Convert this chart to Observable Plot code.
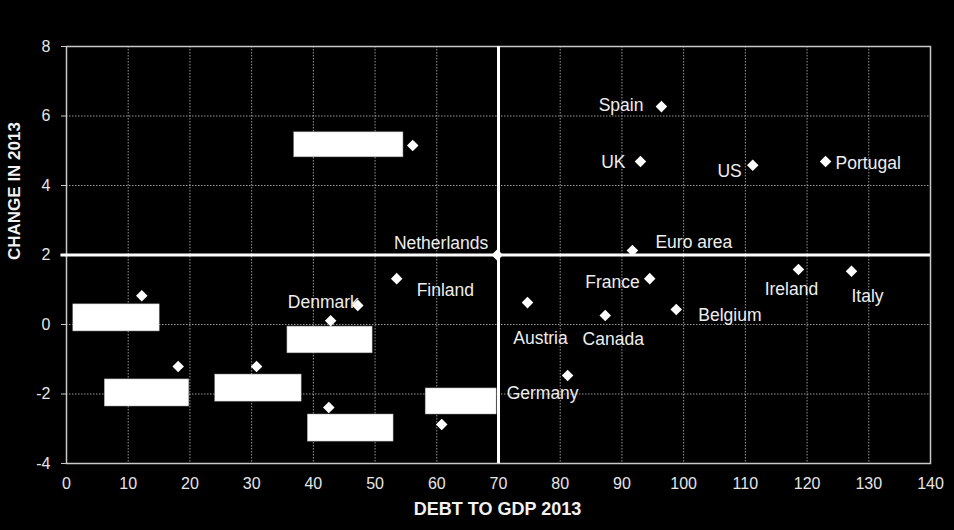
<!DOCTYPE html>
<html>
<head>
<meta charset="utf-8">
<script src="https://cdn.jsdelivr.net/npm/d3@7"></script>
<script src="https://cdn.jsdelivr.net/npm/@observablehq/plot@0.6"></script>
<style>
  html, body { margin: 0; padding: 0; background: #000; }
  #chart svg { display: block; }
</style>
</head>
<body>
<div id="chart"></div>
<script>
// ---- Data ----
const countries = ["Spain", "UK", "US", "Portugal", "Euro area", "Netherlands", "France", "Ireland", "Italy",
  "Belgium", "Canada", "Austria", "Germany", "Finland", "Denmark",
  "", "", "", "", "", "", ""];
const debtToGdp = [96.4, 93.0, 111.2, 123.0, 91.7, 69.8, 94.5, 118.6, 127.2,
  98.8, 87.3, 74.7, 81.2, 53.5, 47.2,
  42.8, 56.1, 12.2, 18.1, 30.8, 42.5, 60.8];
const change2013 = [6.27, 4.69, 4.58, 4.69, 2.13, 2.0, 1.32, 1.58, 1.53,
  0.43, 0.26, 0.63, -1.47, 1.32, 0.55,
  0.11, 5.15, 0.83, -1.21, -1.21, -2.39, -2.88];

// hidden (blanked-out) label boxes, in data units
const boxX1 = [36.9, 1.1, 6.2, 24.1, 35.8, 39.1, 58.2];
const boxX2 = [54.6, 15.1, 19.9, 38.1, 49.6, 53.0, 69.7];
const boxY1 = [4.81, -0.20, -2.36, -2.22, -0.83, -3.37, -2.59];
const boxY2 = [5.53, 0.58, -1.58, -1.44, -0.06, -2.59, -1.84];

const xTicks = [0, 10, 20, 30, 40, 50, 60, 70, 80, 90, 100, 110, 120, 130, 140];
const yTicks = [-4, -2, 0, 2, 4, 6, 8];
const xThreshold = 70;
const yThreshold = 2;

// label placement (style): [dx, dy, anchor]
const labelPlacement = {
  "Spain": [-18, -1, "end"], "UK": [-15, 1, "end"], "US": [-11, 6, "end"],
  "Portugal": [10, 2, "start"], "Euro area": [23, -8, "start"], "Netherlands": [-9, -12, "end"],
  "France": [-10, 4, "end"], "Ireland": [-7, 20, "middle"], "Italy": [16, 25, "middle"],
  "Belgium": [22, 6, "start"], "Canada": [8, 24, "middle"], "Austria": [13, 36, "middle"],
  "Germany": [-25, 18, "middle"], "Finland": [20, 12, "start"], "Denmark": [1, -3, "end"]
};

const points = countries.map((c, i) => ({name: c, x: debtToGdp[i], y: change2013[i]}));
const boxes = boxX1.map((v, i) => ({x1: v, x2: boxX2[i], y1: boxY1[i], y2: boxY2[i]}));
const labelled = points.filter(d => d.name);

const font = "'Liberation Sans', Arial, sans-serif";
const labelMarks = labelled.map(d => {
  const [dx, dy, anchor] = labelPlacement[d.name];
  return Plot.text([d], {x: "x", y: "y", text: "name", dx, dy, textAnchor: anchor,
    fill: "#eeeeee", fontSize: 17.5});
});

const chart = Plot.plot({
  width: 954,
  height: 530,
  marginLeft: 66,
  marginRight: 24,
  marginTop: 46,
  marginBottom: 67,
  style: {background: "#000", color: "#e6e6e6", fontFamily: font, fontSize: "16px"},
  x: {domain: [0, 140]},
  y: {domain: [-4, 8]},
  marks: [
    Plot.gridX(xTicks.slice(1, -1), {stroke: "#bdbdbd", strokeOpacity: 1, strokeDasharray: "1.5,1.5", strokeWidth: 0.8}),
    Plot.gridY(yTicks.slice(1, -1), {stroke: "#bdbdbd", strokeOpacity: 1, strokeDasharray: "1.5,1.5", strokeWidth: 0.8}),
    Plot.frame({stroke: "#c8c8c8", strokeWidth: 1.5}),
    Plot.axisX(xTicks, {tickSize: 0, tickPadding: 14, fill: "#e6e6e6", fontSize: 16, label: null, tickFormat: d => String(d)}),
    Plot.axisY(yTicks, {tickSize: 5, tickPadding: 11, stroke: "#c8c8c8", fill: "#e6e6e6", fontSize: 16, label: null, tickFormat: d => String(d)}),
    Plot.ruleX([xThreshold], {y1: -4, y2: 8, stroke: "#fff", strokeWidth: 3}),
    Plot.ruleY([yThreshold], {x1: -0.9, x2: 140, stroke: "#fff", strokeWidth: 3}),
    Plot.rect(boxes, {x1: "x1", x2: "x2", y1: "y1", y2: "y2", fill: "#fff", stroke: "#999", strokeWidth: 0.5}),
    Plot.dot(points, {x: "x", y: "y", symbol: "diamond2", r: 5.2, fill: "#fff", stroke: "none"}),
    ...labelMarks,
    Plot.text(["CHANGE IN 2013"], {frameAnchor: "left", rotate: -90, dx: -52, dy: 5, fill: "#f2f2f2", fontSize: 17, fontWeight: "bold"}),
    Plot.text(["DEBT TO GDP 2013"], {frameAnchor: "bottom", dy: 51, dx: -1, fill: "#f2f2f2", fontSize: 18, fontWeight: "bold"})
  ]
});
document.getElementById("chart").append(chart);
</script>
</body>
</html>
